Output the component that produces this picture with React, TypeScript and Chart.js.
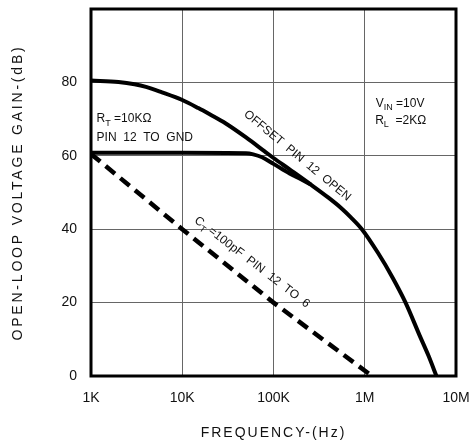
import React, { useEffect, useRef } from 'react';
import { Chart, registerables } from 'chart.js';

Chart.register(...registerables);

// ---- data ----
const decadeTicks = [1e3, 1e4, 1e5, 1e6, 1e7];
const decadeLabels = ['1K', '10K', '100K', '1M', '10M'];
const gainTicks = [0, 20, 40, 60, 80, 100];

// OFFSET PIN 12 OPEN
const openFreq = [1e3, 2e3, 3e3, 4e3, 6e3, 1e4, 1.5e4, 2e4, 3e4, 5e4, 8e4, 1e5, 1.5e5, 2.55e5, 4e5, 5.5e5, 7e5, 9.3e5, 1.4e6, 2e6, 2.8e6, 4e6, 5e6, 6.1e6];
const openGain = [80.5, 80.1, 79.5, 78.8, 77.3, 75.2, 73, 71.3, 68.8, 65, 61.2, 59.4, 56.3, 52.2, 48.6, 45.8, 43.3, 40, 33.5, 27, 20, 11, 5.5, 0];

// RT = 10K, PIN 12 TO GND
const rtFreq = [1e3, 1e4, 5e4, 6e4, 7.5e4, 1e5, 1.5e5, 2e5, 2.55e5];
const rtGain = [60.8, 60.8, 60.7, 60.4, 59.6, 57.8, 55.2, 53.6, 52.2];

// CT = 100pF PIN 12 TO 6
const ctFreq = [1e3, 1e4, 1e5, 1.2e6];
const ctGain = [60.5, 40, 20, 0];

const FONT = '"Liberation Sans", Arial, sans-serif';
const INK = '#111';

type Seg = { t: string; sub?: boolean };
type Note = { segs: Seg[]; f: number; db: number; angle: number; align: 'left' | 'center'; size: number };

const notes: Note[] = [
  { segs: [{ t: 'R' }, { t: 'T', sub: true }, { t: ' =10KΩ' }], f: 1.15e3, db: 69.1, angle: 0, align: 'left', size: 12 },
  { segs: [{ t: 'PIN  12  TO  GND' }], f: 1.15e3, db: 64, angle: 0, align: 'left', size: 12 },
  { segs: [{ t: 'V' }, { t: 'IN', sub: true }, { t: ' =10V' }], f: 1.32e6, db: 73.4, angle: 0, align: 'left', size: 12 },
  { segs: [{ t: 'R' }, { t: 'L', sub: true }, { t: '  =2KΩ' }], f: 1.3e6, db: 68.8, angle: 0, align: 'left', size: 12 },
  { segs: [{ t: 'OFFSET  PIN  12  OPEN' }], f: 1.85e5, db: 60.2, angle: 39.6, align: 'center', size: 12 },
  { segs: [{ t: 'C' }, { t: 'T', sub: true }, { t: ' =100pF  PIN  12  TO  6' }], f: 5.9e4, db: 31.2, angle: 37.5, align: 'center', size: 12 },
];

function drawRich(ctx: CanvasRenderingContext2D, n: Note, x: number, y: number) {
  ctx.save();
  ctx.translate(x, y);
  ctx.rotate((n.angle * Math.PI) / 180);
  const main = `${n.size}px ${FONT}`;
  const sub = `${Math.round(n.size * 0.78)}px ${FONT}`;
  let w = 0;
  for (const s of n.segs) {
    ctx.font = s.sub ? sub : main;
    w += ctx.measureText(s.t).width;
  }
  let cx = n.align === 'center' ? -w / 2 : 0;
  const dy = n.align === 'center' ? n.size * 0.35 : 0;
  ctx.fillStyle = INK;
  ctx.textAlign = 'left';
  ctx.textBaseline = 'alphabetic';
  for (const s of n.segs) {
    ctx.font = s.sub ? sub : main;
    ctx.fillText(s.t, cx, dy + (s.sub ? n.size * 0.28 : 0));
    cx += ctx.measureText(s.t).width;
  }
  ctx.restore();
}

const decorPlugin = {
  id: 'decor',
  afterDatasetsDraw(chart: any) {
    const { ctx, chartArea, scales } = chart;
    ctx.save();
    ctx.strokeStyle = '#000';
    ctx.lineWidth = 3;
    ctx.strokeRect(chartArea.left, chartArea.top, chartArea.right - chartArea.left, chartArea.bottom - chartArea.top);
    ctx.restore();
    for (const n of notes) {
      drawRich(ctx, n, scales.x.getPixelForValue(n.f), scales.y.getPixelForValue(n.db));
    }
    // axis titles
    ctx.save();
    ctx.fillStyle = INK;
    ctx.font = `14px ${FONT}`;
    ctx.textAlign = 'center';
    ctx.textBaseline = 'middle';
    (ctx as any).letterSpacing = '2px';
    ctx.fillText('FREQUENCY-(Hz)', (chartArea.left + chartArea.right) / 2, 433);
    ctx.translate(18, (chartArea.top + chartArea.bottom) / 2);
    ctx.rotate(-Math.PI / 2);
    (ctx as any).letterSpacing = '2.8px';
    ctx.fillText('OPEN-LOOP VOLTAGE GAIN-(dB)', 0, 0);
    ctx.restore();
  },
};

export default function App() {
  const ref = useRef<HTMLCanvasElement>(null);
  useEffect(() => {
    const toXY = (fs: number[], gs: number[]) => fs.map((f, i) => ({ x: f, y: gs[i] }));
    const chart = new Chart(ref.current!, {
      type: 'line',
      data: {
        datasets: [
          {
            data: toXY(openFreq, openGain),
            borderColor: '#000',
            borderWidth: 4,
            pointRadius: 0,
            cubicInterpolationMode: 'monotone',
            fill: false,
          },
          {
            data: toXY(rtFreq, rtGain),
            borderColor: '#000',
            borderWidth: 4,
            pointRadius: 0,
            cubicInterpolationMode: 'monotone',
            fill: false,
          },
          {
            data: toXY(ctFreq, ctGain),
            borderColor: '#000',
            borderWidth: 4.5,
            borderDash: [12, 7],
            borderCapStyle: 'butt',
            pointRadius: 0,
            tension: 0,
            fill: false,
          },
        ],
      },
      options: {
        animation: false,
        responsive: false,
        events: [],
        layout: { padding: { left: 0, top: 9, right: 13, bottom: 0 } },
        plugins: { legend: { display: false }, tooltip: { enabled: false }, title: { display: false } },
        scales: {
          x: {
            type: 'logarithmic',
            min: decadeTicks[0],
            max: decadeTicks[decadeTicks.length - 1],
            afterBuildTicks: (s: any) => {
              s.ticks = decadeTicks.map((v) => ({ value: v }));
            },
            afterFit: (s: any) => {
              s.height = 66;
              s.paddingLeft = 0;
              s.paddingRight = 0;
            },
            ticks: {
              autoSkip: false,
              maxRotation: 0,
              padding: 14,
              color: INK,
              font: { family: FONT, size: 14 },
              callback: (v: any) => {
                const i = decadeTicks.indexOf(Number(v));
                return i >= 0 ? decadeLabels[i] : '';
              },
            },
            grid: { color: '#666', lineWidth: 1, drawTicks: false },
            border: { display: false },
          },
          y: {
            type: 'linear',
            min: gainTicks[0],
            max: gainTicks[gainTicks.length - 1],
            afterBuildTicks: (s: any) => {
              s.ticks = gainTicks.map((v) => ({ value: v }));
            },
            afterFit: (s: any) => {
              s.width = 91;
              s.paddingTop = 0;
              s.paddingBottom = 0;
            },
            ticks: {
              padding: 14,
              color: INK,
              font: { family: FONT, size: 14 },
              callback: (v: any) => (Number(v) === 100 ? '' : String(v)),
            },
            grid: { color: '#666', lineWidth: 1, drawTicks: false },
            border: { display: false },
          },
        },
      },
      plugins: [decorPlugin],
    } as any);
    return () => chart.destroy();
  }, []);
  return (
    <div style={{ position: 'fixed', left: 0, top: 0, width: 469, height: 442, background: '#fff' }}>
      <canvas ref={ref} width={469} height={442} />
    </div>
  );
}
